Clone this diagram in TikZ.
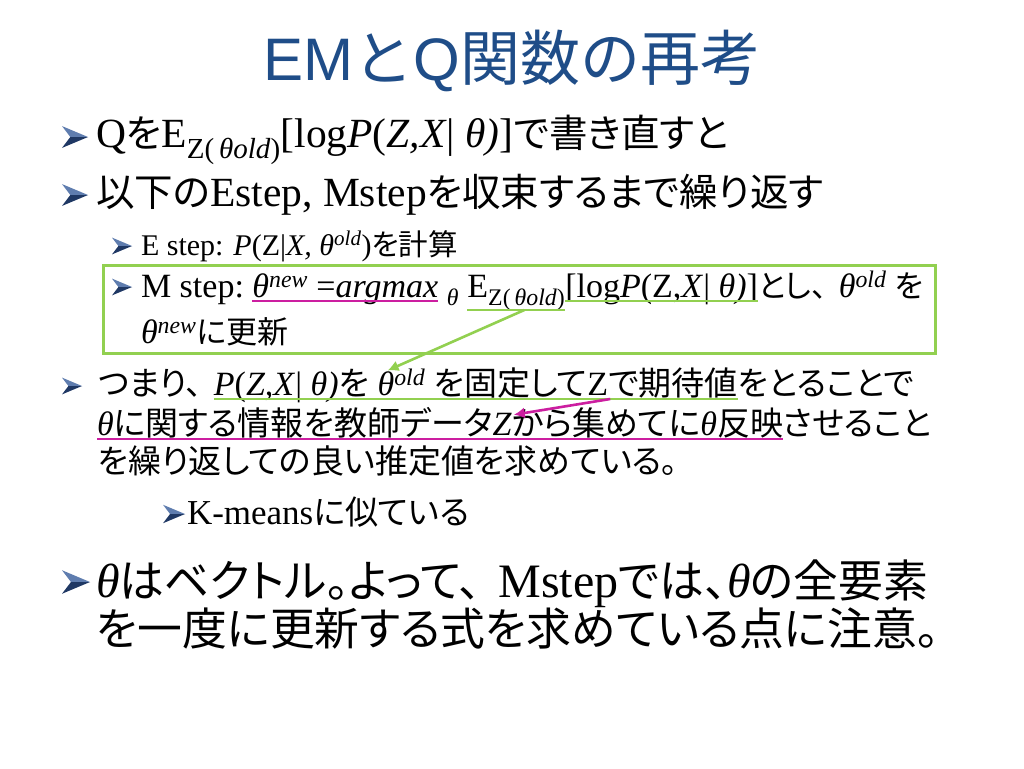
\documentclass[tikz,border=0pt]{standalone}
\usepackage{fontspec}
\setmainfont{Liberation Serif}
\newfontfamily\jp[RawFeature=+palt]{Noto Sans CJK JP}
\newfontfamily\jpt{Noto Sans CJK JP}
\newfontfamily\tfont{Liberation Sans}
\usetikzlibrary{arrows.meta,calc}
\definecolor{titleblue}{RGB}{31,77,136}
\definecolor{buldark}{RGB}{31,56,100}
\definecolor{bullight}{RGB}{95,125,175}
\definecolor{boxgreen}{RGB}{146,208,80}
\definecolor{mag}{RGB}{204,30,160}
\newcommand\fs[1]{\fontsize{#1}{#1}\selectfont}
\newcommand\ti[1]{\textit{#1}}
\def\cjk{30}
\newcommand\J[1]{{\jp\fontsize{\cjk}{\cjk}\selectfont #1}}
\newcommand\gap{\kern0.35em}
\newcommand\wsp{\kern0.25em}
\begin{document}
\begin{tikzpicture}[x=1pt,y=-1pt,
  txt/.style={anchor=base west,inner sep=0pt,outer sep=0pt},
  ms/.style={txt,font={\def\cjk{31}\fs{34}}},
  tm/.style={txt,font={\def\cjk{33}\fs{34}}},
  arrowbul/.pic={
    \fill[bullight] (0,-0.42) -- (1,0) -- (0.32,0) -- cycle;
    \fill[buldark] (0.32,0) -- (1,0) -- (0,0.42) -- cycle;
  },
  uline/.style={line width=1.6pt},
  conn/.style={line width=2.6pt,-{Latex[length=11pt,width=11pt]}}]
\useasboundingbox (0,0) rectangle (1024,768);
\fill[white] (0,0) rectangle (1024,768);

% title
\node[anchor=base,inner sep=0pt,text=titleblue] (title) at (512,80)
  {\fs{60}{\tfont EM}{\jpt と}{\tfont Q}{\jpt 関数の再考}};

% green box
\draw[boxgreen,line width=3pt] (103,265) rectangle (935,353);

% bullets
\pic[scale=26] at (62,137) {arrowbul};
\pic[scale=26] at (62,195) {arrowbul};
\pic[scale=20] at (112,246) {arrowbul};
\pic[scale=20] at (112,287) {arrowbul};
\pic[scale=20] at (62,386) {arrowbul};
\pic[scale=22] at (163,514) {arrowbul};
\pic[scale=28] at (62,582) {arrowbul};

% level 1
\node[txt] (l1) at (96,147) {\def\cjk{38.5}\fs{41.5}Q\J{を}E\textsubscript{Z(\,\ti{θold})}[log\ti{P}(\ti{Z,X}| \ti{θ)}]\J{で書き直すと}};
\node[txt] (l2) at (96,206) {\def\cjk{38.5}\fs{41.5}\J{以下の}Estep, Mstep\J{を収束するまで繰り返す}};

% level 2
\node[txt] (es) at (141,255) {\def\cjk{29.5}\fs{30}E step: \ti{P}(Z|\ti{X, θ}\textsuperscript{\ti{old}})\J{を計算}};
\node[ms] (ms1a) at (141,297) {M step:\wsp};
\node[ms] (ms1b) at (ms1a.base east) {\ti{θ}\textsuperscript{\ti{new}} =\ti{argmax}};
\node[ms] (ms1c) at (ms1b.base east) {\wsp\textsubscript{\ti{θ}}\wsp};
\node[ms] (ms1d) at (ms1c.base east) {E\textsubscript{Z(\,\ti{θold})}};
\node[ms] (ms1e) at (ms1d.base east) {[log\ti{P}(Z,\ti{X}| \ti{θ)}]};
\node[ms] (ms1f) at (ms1e.base east) {\J{とし、}\gap\ti{θ}\textsuperscript{\ti{old}}\wsp\J{を}};
\node[ms] (ms2) at (141,343) {\ti{θ}\textsuperscript{\ti{new}}\J{に更新}};

% tsumari block
\node[tm] (t1a) at (98,395) {\J{つまり、}\gap};
\node[tm] (t1b) at (t1a.base east) {\ti{P}(\ti{Z,X}| \ti{θ)}\J{を}\wsp};
\node[tm] (t1c) at (t1b.base east) {\ti{θ}\textsuperscript{\ti{old}}};
\node[tm] (t1d) at (t1c.base east) {\wsp\J{を固定して}};
\node[tm] (t1z) at (t1d.base east) {Z};
\node[tm] (t1e) at (t1z.base east) {\J{で期待値}};
\node[tm] (t1f) at (t1e.base east) {\J{をとることで}};
\node[tm] (t2a) at (97,435) {\ti{θ}\J{に関する情報を教師データ}};
\node[tm] (t2z) at (t2a.base east) {\ti{Z}};
\node[tm] (t2b) at (t2z.base east) {\J{から集めてに}\ti{θ}\J{反映}};
\node[tm] (t2c) at (t2b.base east) {\J{させること}};
\node[tm] (t3) at (98,473) {\J{を繰り返しての良い推定値を求めている。}};
\node[txt] (km) at (187,524) {\def\cjk{33}\fs{35}K-means\J{に似ている}};

% big
\node[txt] (b1) at (96,597) {\def\cjk{44.8}\fs{48}\ti{θ}\J{はベクトル。よって、}\gap Mstep\J{では、}\ti{θ}\J{の全要素}};
\node[txt] (b2) at (96,645) {\def\cjk{44.8}\fs{48}\J{を一度に更新する式を求めている点に注意。}};

% underlines
\draw[mag,uline] ($(ms1b.base west)+(0,4)$) -- ($(ms1b.base east)+(0,4)$);
\draw[boxgreen,uline] ($(ms1d.base west)+(0,13)$) -- ($(ms1d.base east)+(0,13)$);
\draw[boxgreen,uline] ($(ms1e.base west)+(0,4)$) -- ($(ms1e.base east)+(0,4)$);
\draw[boxgreen,uline] ($(t1b.base west)+(0,4)$) -- ($(t1e.base east)+(0,4)$);
\draw[mag,uline] ($(t2a.base west)+(0,4)$) -- ($(t2b.base east)+(0,4)$);

% arrows
\draw[boxgreen,conn] ($(ms1d.base)+(8,13)$) -- ($(t1c.north west)+(10,1)$);
\draw[mag,conn] ($(t1z.base east)+(2,4)$) -- ($(t2z.north east)+(2,2)$);
\end{tikzpicture}
\end{document}
